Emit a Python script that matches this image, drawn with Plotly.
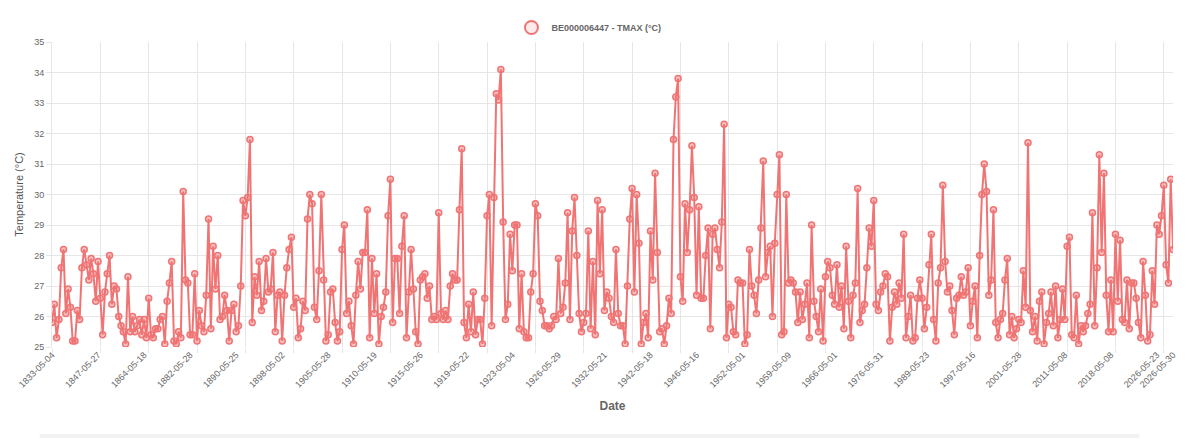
import plotly.graph_objects as go

series_name = "BE000006447 - TMAX (°C)"

tmax = [
    25.8, 26.4, 25.3, 25.9, 27.6, 28.2, 26.1, 26.9, 26.3, 25.2,
    25.2, 26.2, 25.9, 27.6, 28.2, 27.7, 27.2, 27.9, 27.4, 26.5,
    27.8, 26.6, 25.4, 26.8, 27.4, 28.0, 26.4, 27.0, 26.9, 26.0,
    25.7, 25.5, 25.1, 27.3, 25.5, 26.0, 25.5, 25.7, 25.9, 25.4,
    25.9, 25.3, 26.6, 25.4, 25.3, 25.6, 25.6, 25.9, 26.0, 25.1,
    26.5, 27.1, 27.8, 25.2, 25.1, 25.5, 25.3, 30.1, 27.2, 27.1,
    25.4, 25.4, 27.4, 25.2, 26.2, 25.7, 25.5, 26.7, 29.2, 25.6,
    28.3, 26.9, 28.0, 25.9, 26.0, 26.7, 26.2, 25.2, 26.2, 26.4,
    25.5, 25.7, 27.0, 29.8, 29.3, 29.9, 31.8, 25.8, 27.3, 26.7,
    27.8, 26.2, 26.5, 27.9, 26.8, 26.9, 28.1, 25.5, 26.7, 26.8,
    25.2, 26.7, 27.6, 28.2, 28.6, 26.3, 26.6, 25.3, 25.6, 26.5,
    26.2, 29.2, 30.0, 29.7, 26.3, 25.9, 27.5, 30.0, 27.2, 25.2,
    25.4, 26.8, 26.9, 25.8, 25.2, 25.5, 28.2, 29.0, 26.1, 26.5,
    25.7, 25.1, 26.7, 27.8, 26.9, 28.1, 28.1, 29.5, 25.3, 27.9,
    26.1, 27.4, 25.1, 26.0, 26.3, 26.8, 29.3, 30.5, 25.8, 27.9,
    27.9, 26.1, 28.3, 29.3, 25.3, 26.8, 28.2, 26.9, 25.5, 25.1,
    27.2, 27.3, 27.4, 26.6, 27.0, 25.9, 26.0, 25.9, 29.4, 26.1,
    25.9, 26.2, 25.9, 27.0, 27.4, 27.2, 27.2, 29.5, 31.5, 25.8,
    25.3, 26.4, 25.5, 26.8, 25.4, 25.9, 25.9, 25.1, 26.6, 29.3,
    30.0, 25.7, 29.9, 33.3, 33.1, 34.1, 29.1, 25.9, 26.4, 28.7,
    27.5, 29.0, 29.0, 25.6, 27.4, 25.5, 25.3, 25.3, 26.8, 27.4,
    29.7, 29.3, 26.5, 26.2, 25.7, 25.7, 25.6, 25.7, 26.0, 25.9,
    27.9, 26.1, 26.3, 27.1, 29.4, 25.9, 28.8, 29.9, 28.0, 26.1,
    25.5, 25.8, 26.1, 28.8, 25.6, 27.8, 25.4, 29.8, 27.4, 29.5,
    26.2, 26.8, 26.6, 26.0, 25.8, 28.2, 26.1, 25.7, 25.7, 25.1,
    27.0, 29.2, 30.2, 26.8, 30.0, 28.4, 25.1, 25.8, 26.1, 25.3,
    28.8, 27.2, 30.7, 28.1, 25.5, 25.6, 25.1, 25.7, 26.6, 26.1,
    31.8, 33.2, 33.8, 27.3, 26.5, 29.7, 28.1, 29.5, 31.6, 29.9,
    26.7, 29.6, 26.6, 26.6, 28.0, 28.9, 25.6, 28.7, 28.9, 28.2,
    27.6, 29.1, 32.3, 25.3, 26.4, 26.3, 25.5, 25.4, 27.2, 27.1,
    27.1, 25.1, 25.4, 28.2, 27.0, 26.7, 26.1, 27.2, 28.9, 31.1,
    27.3, 28.1, 28.3, 26.0, 28.4, 30.0, 31.3, 25.4, 25.5, 30.0,
    27.1, 27.2, 27.1, 26.8, 25.8, 26.8, 25.9, 26.4, 27.1, 25.3,
    29.0, 26.5, 26.0, 25.5, 26.9, 25.2, 27.3, 27.8, 27.6, 26.7,
    26.4, 27.7, 26.3, 27.0, 25.6, 28.3, 26.5, 25.3, 26.7, 27.1,
    30.2, 25.8, 26.2, 26.4, 27.6, 28.9, 28.3, 29.8, 26.4, 26.2,
    26.8, 27.0, 27.4, 27.3, 25.2, 26.3, 26.8, 26.4, 27.1, 26.6,
    28.7, 25.3, 26.0, 26.7, 25.2, 25.3, 26.6, 27.2, 26.6, 25.6,
    26.3, 27.7, 28.7, 25.9, 25.2, 27.1, 27.6, 30.3, 27.8, 26.8,
    27.0, 26.2, 25.4, 26.6, 26.7, 27.3, 26.7, 26.8, 27.6, 25.7,
    26.5, 27.0, 25.3, 28.0, 30.0, 31.0, 30.1, 26.7, 27.2, 29.5,
    25.8, 25.3, 25.9, 26.1, 27.2, 27.9, 25.4, 26.0, 25.3, 25.6,
    25.9, 25.8, 27.5, 26.3, 31.7, 26.2, 25.5, 26.0, 25.2, 26.5,
    26.8, 25.1, 25.8, 26.1, 26.8, 25.7, 27.0, 25.3, 25.9, 26.9,
    25.9, 28.3, 28.6, 25.4, 25.3, 26.7, 25.1, 25.7, 25.5, 25.7,
    26.1, 26.4, 29.4, 25.7, 27.6, 31.3, 28.1, 30.7, 26.7, 25.5,
    27.2, 25.5, 28.7, 26.5, 28.5, 25.9, 25.8, 27.2, 25.6, 27.1,
    27.1, 26.6, 25.8, 25.3, 27.8, 26.7, 25.2, 25.4, 27.5, 26.4,
    29.0, 28.7, 29.3, 30.3, 27.7, 27.1, 30.5, 28.2,
]

tick_labels = [
    "1833-05-04", "1847-05-27", "1864-05-18", "1882-05-28", "1890-05-25",
    "1898-05-02", "1905-05-28", "1910-05-19", "1915-05-26", "1919-05-22",
    "1923-05-04", "1926-05-29", "1932-05-21", "1942-05-18", "1946-05-16",
    "1952-05-01", "1959-05-09", "1966-05-01", "1976-05-31", "1989-05-23",
    "1997-05-16", "2001-05-28", "2011-05-08", "2018-05-08", "2026-05-23",
    "2026-05-30",
]

y_ticks = list(range(25, 36))

n = len(tmax)
xs = list(range(n))
label_step = 20
grid_step = 21
label_pos = [label_step * k for k in range(len(tick_labels) - 1)] + [n - 1]
grid_pos = list(range(0, n, grid_step))

line_col = "rgb(240,116,116)"
fill_col = "rgba(240,116,116,0.45)"
legend_fill = "rgba(240,116,116,0.15)"
grid_col = "#e6e6e6"
txt_col = "#666666"
font_fam = "Liberation Sans, Arial, Helvetica, sans-serif"

fig = go.Figure()
fig.add_trace(go.Scatter(
    x=xs, y=tmax, mode="lines+markers", showlegend=False,
    line=dict(color=line_col, width=2),
    marker=dict(size=6, color=fill_col, line=dict(color=line_col, width=1.5)),
    hovertemplate="%{y}<extra></extra>",
))
fig.add_trace(go.Scatter(
    x=[None], y=[None], mode="markers", name=series_name, xaxis="x2",
    marker=dict(size=13, color=legend_fill, line=dict(color=line_col, width=2)),
))

fig.update_layout(
    width=1200, height=439,
    margin=dict(l=52, r=27, t=42, b=92),
    paper_bgcolor="white", plot_bgcolor="white",
    font=dict(family=font_fam, size=9, color=txt_col),
    showlegend=True,
    legend=dict(orientation="h", x=0.479, xanchor="center", y=1.0, yanchor="bottom",
                font=dict(size=9, color=txt_col, family=font_fam, weight="bold"),
                itemsizing="trace", bgcolor="rgba(0,0,0,0)"),
    xaxis=dict(range=[0, n - 1], tickmode="array", tickvals=label_pos,
               ticktext=tick_labels, tickangle=-45, showgrid=False,
               zeroline=False, showline=False, ticks="",
               tickfont=dict(size=9, color=txt_col),
               title=dict(text="<b>Date</b>", font=dict(size=12, color=txt_col), standoff=12)),
    xaxis2=dict(range=[0, n - 1], overlaying="x", anchor="y", side="bottom",
                tickmode="array", tickvals=grid_pos, showticklabels=False,
                showgrid=True, gridcolor=grid_col, gridwidth=1, zeroline=False,
                ticks="outside", ticklen=5, tickcolor=grid_col, showline=False),
    yaxis=dict(range=[25, 35], tickmode="array", tickvals=y_ticks,
               showgrid=True, gridcolor=grid_col, zeroline=False,
               showline=True, linecolor=grid_col, ticks="outside", ticklen=5,
               tickcolor=grid_col, tickfont=dict(size=9, color=txt_col),
               title=dict(text="Temperature (°C)", font=dict(size=11, color="#555555"), standoff=8)),
    shapes=[dict(type="line", xref="paper", yref="paper",
                 x0=-0.011, x1=0.97, y0=-0.292, y1=-0.292,
                 line=dict(color="#f2f2f2", width=4))],
)

fig.write_html("out.html")
